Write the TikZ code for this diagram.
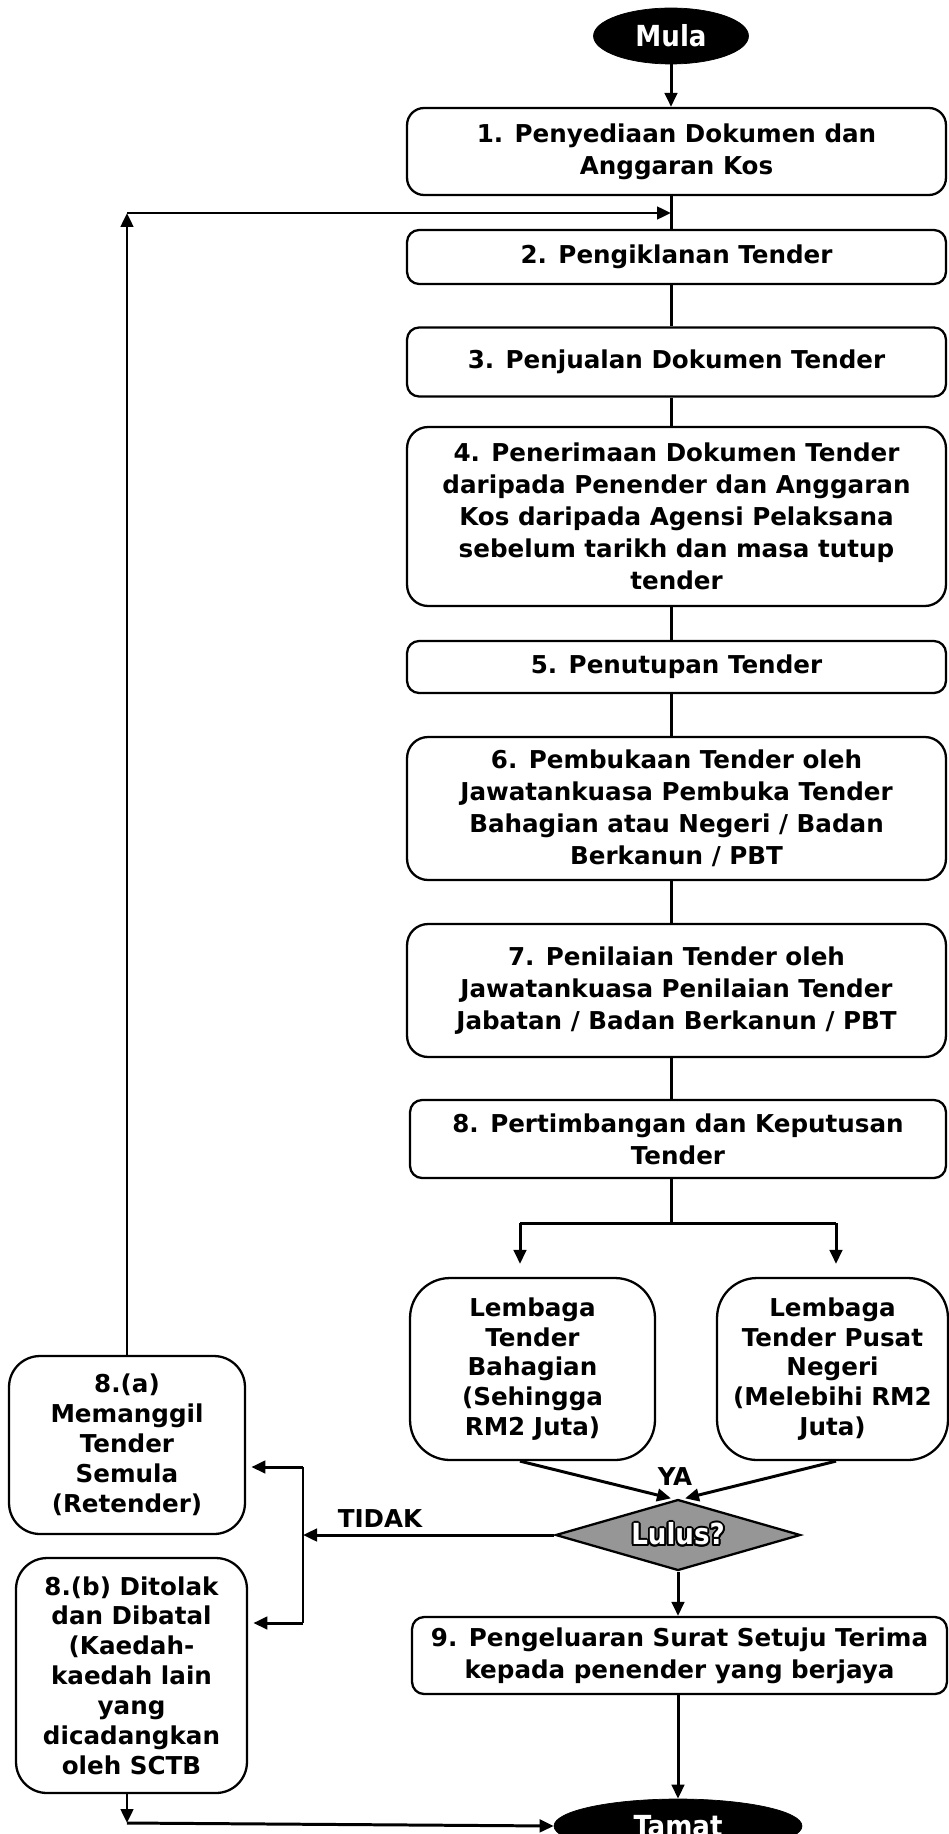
\documentclass[tikz,border=0pt]{standalone}
\usepackage{fontspec}
\setmainfont{DejaVu Sans}
\newfontfamily\tdcond{DejaVu Sans Condensed}
\usepackage{contour}
\contourlength{1.1pt}
\usetikzlibrary{arrows.meta,positioning,shapes.geometric}
\definecolor{tdedge}{RGB}{0,0,0}
\definecolor{tddec}{RGB}{150,150,150}
\tikzset{
  tdbox/.style={
    draw=tdedge, line width=1.3pt, rounded corners=0.24cm,
    align=center, inner sep=1pt, font=\fontsize{14}{18.2}\selectfont\bfseries
  },
  tdtall/.style={tdbox, rounded corners=0.42cm},
  tdside/.style={tdbox, rounded corners=0.7cm, font=\fontsize{14}{17}\selectfont\bfseries},
  term/.style={
    ellipse, fill=black, draw=tdedge, text=white, inner sep=0pt,
    font=\tdcond\fontsize{16.5}{18}\selectfont\bfseries
  },
  dec/.style={
    diamond, fill=tddec, draw=tdedge, line width=1.3pt, aspect=3.4,
    inner sep=0pt, font=\tdcond\fontsize{16.5}{18}\selectfont\bfseries
  },
  ln/.style={draw=tdedge, line width=1.7pt},
  arr/.style={-{Triangle[length=0.28cm,width=0.25cm]}, ln},
  lbl/.style={font=\fontsize{14}{18}\selectfont\bfseries}
}
\begin{document}
\begin{tikzpicture}[x=0.02cm,y=-0.02cm]
  \useasboundingbox (0,0) rectangle (949,1834);
  \coordinate (spine) at (671,0);
  \coordinate (colL) at (520,0);
  \coordinate (colR) at (836,0);
  % main column
  \node[term, minimum width=3.1cm, minimum height=1.12cm] (mula) at (671,36) {Mula};
  \node[tdbox, rounded corners=0.34cm, minimum width=10.78cm, minimum height=1.74cm] (b1) at (676.5,151.5) {1. Penyediaan Dokumen dan\\Anggaran Kos};
  \node[tdbox, minimum width=10.78cm, minimum height=1.08cm] (b2) at (676.5,257) {2. Pengiklanan Tender};
  \node[tdbox, minimum width=10.78cm, minimum height=1.38cm] (b3) at (676.5,362) {3. Penjualan Dokumen Tender};
  \node[tdtall, minimum width=10.78cm, minimum height=3.58cm] (b4) at (676.5,516.5) {4. Penerimaan Dokumen Tender\\daripada Penender dan Anggaran\\Kos daripada Agensi Pelaksana\\sebelum tarikh dan masa tutup\\tender};
  \node[tdbox, minimum width=10.78cm, minimum height=1.04cm] (b5) at (676.5,667) {5. Penutupan Tender};
  \node[tdtall, minimum width=10.78cm, minimum height=2.86cm] (b6) at (676.5,808.5) {6. Pembukaan Tender oleh\\Jawatankuasa Pembuka Tender\\Bahagian atau Negeri / Badan\\Berkanun / PBT};
  \node[tdtall, minimum width=10.78cm, minimum height=2.66cm] (b7) at (676.5,990.5) {7. Penilaian Tender oleh\\Jawatankuasa Penilaian Tender\\Jabatan / Badan Berkanun / PBT};
  \node[tdbox, minimum width=10.72cm, minimum height=1.56cm] (b8) at (678,1139) {8. Pertimbangan dan Keputusan\\Tender};
  % lembaga tender
  \node[tdside, rounded corners=0.8cm, minimum width=4.9cm, minimum height=3.64cm] (lb) at (532.5,1369) {Lembaga\\Tender\\Bahagian\\(Sehingga\\RM2 Juta)};
  \node[tdside, rounded corners=0.8cm, minimum width=4.62cm, minimum height=3.64cm] (lp) at (832.5,1369) {Lembaga\\Tender Pusat\\Negeri\\(Melebihi RM2\\Juta)};
  \node[dec, minimum width=4.9cm, minimum height=1.42cm] (lulus) at (678,1535) {\contour{black}{\textcolor{white}{Lulus?}}};
  \node[tdbox, minimum width=10.7cm, minimum height=1.54cm] (b9) at (679.5,1655.5) {9. Pengeluaran Surat Setuju Terima\\kepada penender yang berjaya};
  \node[term, minimum width=4.96cm, minimum height=1.08cm] (tamat) at (678,1826) {Tamat};
  % left column
  \node[tdside, rounded corners=0.62cm, minimum width=4.72cm, minimum height=3.56cm] (ra) at (127,1445) {8.(a)\\Memanggil\\Tender\\Semula\\(Retender)};
  \node[tdside, rounded corners=0.62cm, minimum width=4.62cm, minimum height=4.7cm] (rb) at (131.5,1675.5) {8.(b) Ditolak\\dan Dibatal\\(Kaedah-\\kaedah lain\\yang\\dicadangkan\\oleh SCTB};
  \node[lbl] (ya) at (675,1477) {YA};
  \node[lbl] (tidak) at (380,1519) {TIDAK};
  \coordinate (split) at (671,1223);
  \coordinate (fbk) at (127,213);
  \coordinate (tup) at (303,1467);
  \coordinate (tdn) at (303,1623);
  \coordinate (bend) at (127,1823);
  % connectors
  \draw[arr] (mula.south -| spine) -- (b1.north -| spine);
  \draw[ln] (b1.south -| spine) -- (b2.north -| spine);
  \draw[ln] (b2.south -| spine) -- (b3.north -| spine);
  \draw[ln] (b3.south -| spine) -- (b4.north -| spine);
  \draw[ln] (b4.south -| spine) -- (b5.north -| spine);
  \draw[ln] (b5.south -| spine) -- (b6.north -| spine);
  \draw[ln] (b6.south -| spine) -- (b7.north -| spine);
  \draw[ln] (b7.south -| spine) -- (b8.north -| spine);
  \draw[ln] (b8.south -| spine) -- (split);
  \draw[arr, shorten >=0.26cm] (split -| colL) -- (colL |- lb.north);
  \draw[arr, shorten >=0.26cm] (split -| colR) -- (colR |- lp.north);
  \draw[ln] (split -| colL) -- (split -| colR);
  \draw[arr] (colL |- lb.south) -- ([xshift=-4pt]lulus.north);
  \draw[arr] (colR |- lp.south) -- ([xshift=4pt]lulus.north);
  \draw[arr] (lulus.south) -- (b9.north -| lulus.south);
  \draw[arr] (b9.south -| tamat) -- (tamat.north);
  \draw[arr] (lulus.west) -- (tup |- lulus.west);
  \draw[ln] (tup) -- (tdn);
  \draw[arr] (tup) -- ([xshift=3pt]tup -| ra.east);
  \draw[arr] (tdn) -- ([xshift=3pt]tdn -| rb.east);
  \draw[arr] (ra.north -| fbk) -- (fbk);
  \draw[arr] (fbk) -- (fbk -| spine);
  \draw[arr] (rb.south -| bend) -- (bend);
  \draw[arr] (bend) -- (tamat.west);
\end{tikzpicture}
\end{document}
